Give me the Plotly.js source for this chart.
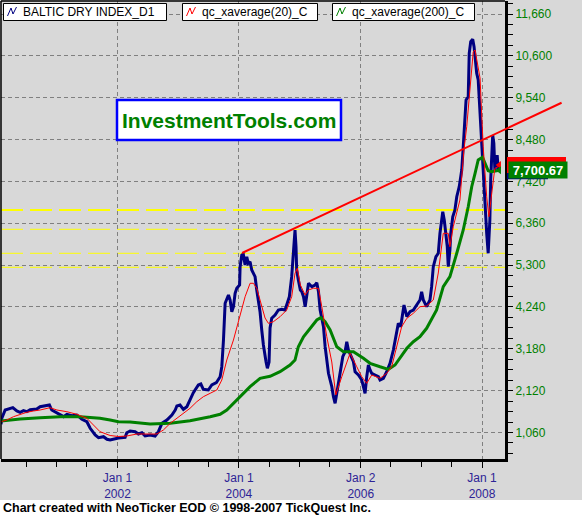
<!DOCTYPE html>
<html><head><meta charset="utf-8">
<script src="https://cdn.plot.ly/plotly-3.0.1.min.js"></script>
<style>html,body{margin:0;padding:0;background:#d8d8d8;overflow:hidden}#chart{width:582px;height:516px}</style>
</head><body><div id="chart"></div>
<script>
// ---------- DATA ----------
const seriesNames = ['BALTIC DRY INDEX_D1', 'qc_xaverage(20)_C', 'qc_xaverage(200)_C'];

const bdiDates = ['2000-02-01','2000-02-06','2000-02-26','2000-03-17','2000-04-12','2000-05-06','2000-05-26','2000-06-15','2000-07-05','2000-07-25','2000-09-03','2000-09-23','2000-11-02','2000-11-18','2000-12-02','2000-12-22',
'2001-01-22','2001-02-11','2001-03-03','2001-04-02','2001-05-02','2001-06-01','2001-07-01','2001-07-21','2001-08-20','2001-09-09','2001-10-09','2001-10-30','2001-11-18','2001-12-08',
'2002-01-07','2002-02-16','2002-02-26','2002-03-18','2002-04-17','2002-05-07','2002-05-28','2002-06-16','2002-07-16','2002-08-15','2002-09-04','2002-09-25','2002-10-25','2002-11-24','2002-12-14','2002-12-24',
'2003-01-12','2003-02-01','2003-02-22','2003-03-13','2003-04-02','2003-05-02','2003-05-17','2003-06-01','2003-07-01','2003-07-22','2003-08-18','2003-09-10','2003-09-20','2003-09-30','2003-10-10','2003-10-30','2003-11-09','2003-11-19','2003-11-29','2003-12-09','2003-12-19',
'2004-01-05','2004-01-08','2004-01-18','2004-01-27','2004-02-07','2004-02-17','2004-02-26','2004-03-08','2004-03-18','2004-04-07','2004-04-17','2004-05-07','2004-05-17','2004-05-27','2004-06-12','2004-06-20','2004-06-30','2004-07-06','2004-07-16','2004-08-05','2004-08-25','2004-09-14','2004-10-04','2004-10-14','2004-10-30','2004-11-13','2004-11-23','2004-12-03','2004-12-09','2004-12-13','2004-12-23',
'2005-01-04','2005-01-13','2005-01-23','2005-02-02','2005-02-12','2005-02-22','2005-03-14','2005-04-03','2005-04-13','2005-04-23','2005-05-03','2005-05-23','2005-06-02','2005-06-12','2005-06-22','2005-07-02','2005-07-12','2005-07-22','2005-08-01','2005-08-11','2005-08-28','2005-09-16','2005-09-30','2005-10-10','2005-10-20','2005-11-03','2005-11-19','2005-11-29','2005-12-19',
'2006-01-08','2006-01-18','2006-01-28','2006-02-07','2006-02-17','2006-02-27','2006-03-09','2006-03-29','2006-04-18','2006-04-28','2006-05-18','2006-06-07','2006-06-27','2006-07-17','2006-08-06','2006-08-16','2006-08-30','2006-09-11','2006-09-19','2006-10-06','2006-10-25','2006-11-14','2006-12-05','2006-12-24',
'2007-01-03','2007-01-13','2007-02-02','2007-02-22','2007-03-04','2007-03-14','2007-03-30','2007-04-13','2007-04-23','2007-05-10','2007-05-19','2007-05-29','2007-06-06','2007-06-12','2007-06-22','2007-06-27','2007-07-09','2007-07-22','2007-08-02','2007-08-17','2007-09-01','2007-09-10','2007-09-21','2007-09-27','2007-10-10','2007-10-16','2007-10-25','2007-11-06','2007-11-14','2007-11-20','2007-11-30','2007-12-09','2007-12-20',
'2008-01-08','2008-01-18','2008-01-29','2008-02-07','2008-02-17','2008-02-22','2008-02-28','2008-03-05','2008-03-12','2008-03-18','2008-03-24','2008-04-01','2008-04-07','2008-04-13'];
const bdiValues = [1267,1419,1629,1655,1688,1604,1571,1612,1586,1637,1655,1713,1756,1756,1629,1586,
1520,1460,1520,1485,1503,1394,1333,1166,996,928,953,887,869,895,
920,938,1054,1097,1080,1021,1054,971,996,971,1080,1292,1376,1503,1629,1731,
1756,1647,1713,1883,2067,2263,2288,2154,2136,2263,2321,2473,2726,3402,4332,4542,4416,4119,4246,4585,4712,
4796,5259,5555,5581,5302,5512,5345,5386,5176,5006,4669,4112,3656,3276,2845,2686,2845,3706,3952,4036,4162,4180,4162,4289,4499,5006,5766,6189,5766,5176,4922,
4669,4626,4499,4246,4585,4839,4753,4796,4854,4626,4162,3739,3233,2812,2559,2389,2220,1966,1799,2052,2516,2979,3106,3359,3149,3022,2853,2599,2516,
2389,2220,2052,2473,2769,2643,2559,2516,2473,2389,2432,2599,2812,3149,3656,3825,3739,4079,4289,3993,4119,4162,4289,4416,
4626,4416,4246,4416,4753,5259,5512,5599,6105,6652,6442,6105,5766,5259,5682,6105,6526,6695,7032,7286,7709,8299,8975,9482,9565,10665,10958,11019,10832,10578,10158,9988,9145,
7455,6779,6105,5599,6442,7455,8132,8595,8385,7709,7962,8088,7752,7680];

const ma20Dates = ['2000-02-01','2000-03-07','2000-04-16','2000-05-26','2000-07-05','2000-08-14','2000-09-23','2000-11-22','2001-01-02','2001-03-03','2001-05-02','2001-07-01','2001-08-10','2001-09-18','2001-11-18',
'2002-01-07','2002-02-26','2002-04-28','2002-08-26','2002-10-04','2002-11-14','2002-12-24','2003-02-01','2003-03-13','2003-04-23','2003-06-01','2003-07-12','2003-08-21','2003-09-20','2003-10-20','2003-11-29',
'2004-01-08','2004-02-07','2004-03-08','2004-03-28','2004-04-17','2004-05-07','2004-06-06','2004-06-26','2004-07-26','2004-09-04','2004-10-14','2004-11-13','2004-12-03','2004-12-17',
'2005-01-04','2005-02-02','2005-02-22','2005-03-24','2005-04-23','2005-05-13','2005-06-12','2005-07-12','2005-08-05','2005-09-10','2005-10-30','2005-12-09',
'2006-01-08','2006-02-07','2006-03-09','2006-04-28','2006-06-07','2006-07-07','2006-08-06','2006-09-05','2006-10-06','2006-11-14','2006-12-24',
'2007-02-02','2007-03-14','2007-04-13','2007-05-13','2007-06-12','2007-06-22','2007-07-12','2007-08-21','2007-09-14','2007-10-01','2007-10-21','2007-11-09','2007-11-20','2007-12-03','2007-12-20',
'2008-01-08','2008-01-29','2008-02-11','2008-02-28','2008-03-18','2008-04-07','2008-04-13'];
const ma20Values = [1333,1376,1460,1520,1571,1604,1629,1688,1629,1586,1520,1419,1249,1080,983,
958,971,1021,1021,1123,1292,1419,1561,1672,1840,1966,2052,2136,2389,2896,3402,
3993,4499,4839,4839,4712,4416,3960,3825,3866,3993,4162,4499,5092,5219,
4796,4542,4669,4712,4712,4246,3486,2845,2009,2473,3066,2726,
2473,2306,2516,2432,2559,2726,3233,3739,3952,4079,4246,
4264,4416,5099,6105,6105,5766,6272,6949,8215,8805,9818,10705,10748,10411,10039,
8299,7032,6526,7126,7752,7792,7835];

const ma200Dates = ['2000-02-01','2000-05-26','2000-09-23','2001-01-22','2001-05-22','2001-09-18','2001-11-18','2002-01-07','2002-03-18','2002-07-16','2002-11-14','2003-03-13','2003-07-12','2003-09-10','2003-10-20',
'2004-01-08','2004-03-08','2004-05-07','2004-07-06','2004-09-04','2004-11-03','2004-12-03','2004-12-23','2005-01-23','2005-03-04','2005-04-13','2005-05-07','2005-06-02','2005-07-02','2005-08-11','2005-09-20','2005-11-19',
'2006-01-18','2006-02-27','2006-04-28','2006-06-17','2006-07-27','2006-09-05','2006-10-06','2006-11-14','2006-12-24',
'2007-02-02','2007-04-03','2007-05-13','2007-06-22','2007-08-02','2007-09-10','2007-10-10','2007-10-31','2007-11-20','2007-12-09',
'2008-01-04','2008-01-18','2008-02-07','2008-02-28','2008-03-30','2008-04-13'];
const ma200Values = [1351,1401,1434,1460,1460,1419,1376,1333,1325,1275,1292,1358,1460,1520,1629,
1966,2220,2432,2483,2599,2769,2896,3233,3486,3699,3909,3967,3866,3656,3233,3106,3106,
2939,2812,2726,2660,2769,3022,3192,3359,3486,
3699,4162,4753,5006,5599,6189,6779,7286,7625,7962,
8030,7878,7691,7665,7691,7700.67];

const trendDates = ['2004-01-20', '2009-04-23'];
const trendValues = [5606, 9413];

const levelValues = [6696, 6207, 5599, 5244];
const levelWidths = [2, 1, 1, 1];

const xTickVals = ['2002-01-01', '2004-01-01', '2006-01-02', '2008-01-01'];
const xTickText = ['Jan 1<br>2002', 'Jan 1<br>2004', 'Jan 2<br>2006', 'Jan 1<br>2008'];
const xRange = ['2000-02-01', '2008-05-18'];
const yRange = [388, 11990];

const watermark = 'InvestmentTools.com';
const footer = 'Chart created with NeoTicker EOD \u00a9 1998-2007 TickQuest Inc.';

// ---------- LAYOUT HELPERS ----------
const W = 582, H = 516;
const PL = 1, PR = 505, PT = 1, PB = 459;
const px = x => (x - PL) / (PR - PL);
const py = y => (PB - y) / (PB - PT);
const t0 = Date.parse(xRange[0] + 'T00:00:00Z'), t1 = Date.parse(xRange[1] + 'T00:00:00Z');
const dPaper = d => (Date.parse(d + 'T00:00:00Z') - t0) / (t1 - t0);
const vPaper = v => (v - yRange[0]) / (yRange[1] - yRange[0]);
const pxH = h => h / (PB - PT);
const FONT = 'Arial, "Liberation Sans", sans-serif';
const NAVY = '#000080', RED = '#ff0000', GREEN = '#008000';
const fmt = v => v.toLocaleString('en-US', {minimumFractionDigits: 2, maximumFractionDigits: 2});
const last = a => a[a.length - 1];

const traces = [
  {x: bdiDates, y: bdiValues, type: 'scatter', mode: 'lines', name: seriesNames[0], line: {color: NAVY, width: 3}},
  {x: ma200Dates, y: ma200Values, type: 'scatter', mode: 'lines', name: seriesNames[2], line: {color: GREEN, width: 3}},
  {x: ma20Dates, y: ma20Values, type: 'scatter', mode: 'lines', name: seriesNames[1], line: {color: RED, width: 1}},
  {x: [last(ma20Dates)], y: [last(ma20Values)], type: 'scatter', mode: 'markers', cliponaxis: false,
   marker: {symbol: 'triangle-left', size: 7, color: RED}},
  {x: [last(ma200Dates)], y: [last(ma200Values)], type: 'scatter', mode: 'markers', cliponaxis: false,
   marker: {symbol: 'triangle-left', size: 7, color: GREEN}}
];

const shapes = [];
// footer strip
shapes.push({type: 'rect', xref: 'paper', yref: 'paper', x0: px(-10), x1: px(600), y0: py(500), y1: py(530),
  fillcolor: '#ffffff', line: {width: 0}, layer: 'above'});
// top / left frame lines
shapes.push({type: 'line', xref: 'paper', yref: 'paper', x0: 0, x1: 1, y0: 1, y1: 1, line: {color: '#000', width: 1.5}});
shapes.push({type: 'line', xref: 'paper', yref: 'paper', x0: 0, x1: 0, y0: 0, y1: 1, line: {color: '#000', width: 1.5}});
// support / resistance levels
levelValues.forEach((v, i) => shapes.push({type: 'line', xref: 'paper', yref: 'y', x0: 0, x1: 1, y0: v, y1: v,
  line: {color: '#ffff00', width: levelWidths[i], dash: '22px,7px'}, layer: 'below'}));
// trend line (extends past the axis)
shapes.push({type: 'line', xref: 'paper', yref: 'paper',
  x0: dPaper(trendDates[0]), y0: vPaper(trendValues[0]), x1: dPaper(trendDates[1]), y1: vPaper(trendValues[1]),
  line: {color: RED, width: 2}});
// watermark box
shapes.push({type: 'rect', xref: 'paper', yref: 'paper', x0: px(117), x1: px(341), y0: py(140), y1: py(100),
  fillcolor: '#ffffff', line: {color: '#0000ff', width: 2.5}});
// legend boxes
const legBoxes = [[3.5, 166.5], [182.5, 317.5], [332.5, 474.5]];
const legColors = [NAVY, RED, GREEN];
legBoxes.forEach((b, i) => {
  shapes.push({type: 'rect', xref: 'paper', yref: 'paper', x0: px(b[0]), x1: px(b[1]), y0: py(20.5), y1: py(3.5),
    fillcolor: '#ffffff', line: {color: '#000', width: 1}});
  const ix = b[0] + 4;
  shapes.push({type: 'path', xref: 'paper', yref: 'paper',
    path: `M ${px(ix)},${py(16)} L ${px(ix + 3.5)},${py(8)} L ${px(ix + 5.5)},${py(14)} L ${px(ix + 9)},${py(7)}`,
    line: {color: legColors[i], width: 1}});
});
// last-value tags of the price and the 20-bar average (hidden behind the 200-bar tag)
[[last(bdiValues), NAVY, 548], [last(ma20Values), RED, 566]].forEach(([v, c, xr]) =>
  shapes.push({type: 'rect', xref: 'paper', yref: 'paper', x0: px(507), x1: px(xr),
    y0: vPaper(v) - pxH(8), y1: vPaper(v) + pxH(8), fillcolor: c, line: {width: 0}, layer: 'above'}));

const annotations = [];
annotations.push({xref: 'paper', yref: 'paper', x: px(229), y: py(120), text: '<b>' + watermark + '</b>', showarrow: false,
  font: {family: FONT, size: 21, color: GREEN}, xanchor: 'center', yanchor: 'middle'});
legBoxes.forEach((b, i) => annotations.push({xref: 'paper', yref: 'paper', x: px(b[0] + 17), y: py(12), text: seriesNames[i],
  showarrow: false, xanchor: 'left', yanchor: 'middle', font: {family: FONT, size: 12, color: '#000'}}));
annotations.push({xref: 'paper', yref: 'paper', x: px(1), y: py(508), text: '<b>' + footer + '</b>', showarrow: false,
  xanchor: 'left', yanchor: 'middle', font: {family: FONT, size: 12.5, color: '#000'}});
// last value label of the 200-bar average
annotations.push({xref: 'paper', yref: 'y', x: px(508), y: last(ma200Values), xanchor: 'left', yanchor: 'middle', showarrow: false,
  text: '<b>' + fmt(last(ma200Values)) + '</b>', bgcolor: GREEN, borderpad: 1, width: 56, height: 14, align: 'center',
  font: {family: FONT, size: 13, color: '#ffffff'}});

const layout = {
  width: W, height: H,
  margin: {l: PL, r: W - PR, t: PT, b: H - PB, pad: 0},
  paper_bgcolor: '#d8d8d8', plot_bgcolor: '#d8d8d8',
  showlegend: false,
  xaxis: {type: 'date', range: xRange, tickmode: 'array', tickvals: xTickVals, ticktext: xTickText,
    ticks: 'outside', ticklen: 6, tickwidth: 1, tickcolor: '#000',
    showline: true, linewidth: 3, linecolor: '#000', zeroline: false,
    showgrid: true, gridcolor: '#808080', gridwidth: 1, griddash: '4px,3px',
    tickfont: {family: FONT, size: 12, color: '#2e2496'}, automargin: false,
    minor: {dtick: 'M6', tick0: '2000-01-01', ticks: 'outside', ticklen: 5, tickcolor: '#000', showgrid: false}},
  yaxis: {side: 'right', range: yRange, tick0: 0, dtick: 1060, tickformat: ',d',
    ticks: 'outside', ticklen: 5, tickwidth: 1, tickcolor: '#000',
    showline: true, linewidth: 3, linecolor: '#000', zeroline: false,
    showgrid: true, gridcolor: '#808080', gridwidth: 1, griddash: '4px,3px',
    tickfont: {family: FONT, size: 12, color: GREEN}, automargin: false,
    minor: {dtick: 265, tick0: 0, ticks: 'outside', ticklen: 5, tickcolor: '#000', showgrid: false}},
  shapes: shapes,
  annotations: annotations
};

Plotly.newPlot('chart', traces, layout, {staticPlot: true, displayModeBar: false});
</script></body></html>
